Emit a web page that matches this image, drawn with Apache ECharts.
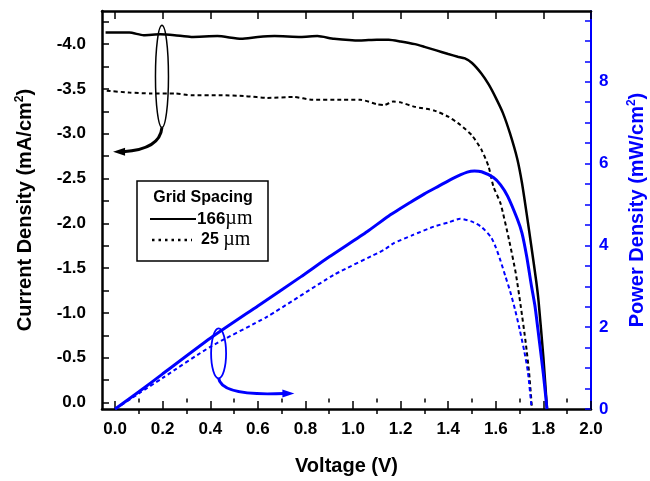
<!DOCTYPE html>
<html><head><meta charset="utf-8">
<script src="https://cdn.jsdelivr.net/npm/echarts@6/dist/echarts.min.js"></script>
<style>html,body{margin:0;padding:0;background:#fff}#c{width:650px;height:481px}</style>
</head><body><div id="c"></div>
<script>
// ---- data ----
const xTickLabels = [0,0.2,0.4,0.6,0.8,1.0,1.2,1.4,1.6,1.8,2.0];
const xMinorTicks = [0.1,0.3,0.5,0.7,0.9,1.1,1.3,1.5,1.7,1.9];
const jTickLabels = [-4.0,-3.5,-3.0,-2.5,-2.0,-1.5,-1.0,-0.5,0.0];
const jTicks = [-4.25,-4.0,-3.75,-3.5,-3.25,-3.0,-2.75,-2.5,-2.25,-2.0,-1.75,-1.5,-1.25,-1.0,-0.75,-0.5,-0.25,0.0];
const pTickLabels = [0,2,4,6,8];
const pTicks = [0,0.5,1,1.5,2,2.5,3,3.5,4,4.5,5,5.5,6,6.5,7,7.5,8,8.5,9,9.5];

// current density, 166 um grid (mA/cm2)
const v166J = [-0.04,0.0,0.06,0.12,0.19,0.25,0.32,0.43,0.53,0.6,0.67,0.78,0.85,0.92,1.03,1.1,1.15,1.2,1.26,1.3,1.35,1.4,1.44,1.47,1.5,1.54,1.57,1.6,1.63,1.66,1.69,1.71,1.73,1.75,1.77,1.78,1.8,1.815];
const j166  = [-4.13,-4.13,-4.13,-4.10,-4.11,-4.10,-4.08,-4.09,-4.06,-4.08,-4.09,-4.08,-4.09,-4.06,-4.04,-4.05,-4.05,-4.03,-4.00,-3.97,-3.93,-3.89,-3.86,-3.84,-3.79,-3.67,-3.55,-3.40,-3.23,-3.00,-2.72,-2.45,-2.10,-1.73,-1.35,-1.12,-0.50,0.07];
// current density, 25 um grid
const v25J = [-0.035,0.06,0.15,0.25,0.32,0.44,0.55,0.64,0.75,0.83,0.95,1.03,1.1,1.13,1.17,1.2,1.26,1.34,1.4,1.45,1.5,1.54,1.57,1.59,1.62,1.656,1.684,1.705,1.726,1.74,1.752];
const j25  = [-3.48,-3.46,-3.45,-3.45,-3.43,-3.43,-3.42,-3.40,-3.41,-3.38,-3.38,-3.38,-3.33,-3.32,-3.36,-3.35,-3.30,-3.26,-3.19,-3.10,-2.98,-2.82,-2.63,-2.41,-2.22,-1.81,-1.44,-1.07,-0.66,-0.33,0.07];
// power density, 166 um grid (mW/cm2)
const v166P = [0,0.1,0.2,0.4,0.6,0.78,0.9,1.06,1.15,1.24,1.3,1.36,1.42,1.48,1.51,1.54,1.59,1.62,1.65,1.69,1.71,1.73,1.75,1.765,1.78,1.8,1.815];
const p166  = [0,0.42,0.86,1.73,2.52,3.23,3.72,4.34,4.72,5.05,5.26,5.45,5.64,5.79,5.82,5.80,5.66,5.48,5.20,4.65,4.30,3.72,3.00,2.50,1.80,0.85,0.0];
// power density, 25 um grid
const v25P = [0,0.1,0.2,0.4,0.64,0.92,1.13,1.17,1.25,1.34,1.4,1.45,1.5,1.54,1.58,1.6,1.62,1.64,1.66,1.68,1.7,1.72,1.735,1.75];
const p25  = [0,0.38,0.76,1.52,2.26,3.28,3.89,4.05,4.25,4.46,4.56,4.65,4.58,4.45,4.20,3.95,3.62,3.25,2.88,2.45,1.95,1.40,0.90,0.05];

const BLUE = '#0000ff';
const FONT = 'Liberation Sans, Arial, sans-serif';
const SERIF = 'Liberation Serif, Times New Roman, serif';
const pairs = (xs, ys) => xs.map((x, i) => [x, ys[i]]);

const chart = echarts.init(document.getElementById('c'));
const xBase = {type:'value', min:-0.055, max:2.0, splitLine:{show:false}};
const option = {
  animation:false,
  backgroundColor:'#fff',
  grid:{left:102, right:59, top:11, bottom:72, outerBoundsMode:'none', containLabel:false},
  xAxis:[
    Object.assign({}, xBase, {position:'bottom',
      name:'Voltage (V)', nameLocation:'middle', nameGap:47,
      nameTextStyle:{fontFamily:FONT, fontWeight:'bold', fontSize:20, color:'#000'},
      axisLine:{show:true, onZero:false, lineStyle:{color:'#000', width:2.5}},
      axisTick:{show:true, inside:true, length:8, customValues:xTickLabels, lineStyle:{color:'#000', width:1.5}},
      axisLabel:{show:true, customValues:xTickLabels, margin:12, formatter:v=>v.toFixed(1),
        fontFamily:FONT, fontWeight:'bold', fontSize:17, color:'#000'}}),
    Object.assign({}, xBase, {position:'bottom',
      axisLine:{show:false}, axisLabel:{show:false},
      axisTick:{show:true, inside:true, length:4, customValues:xMinorTicks, lineStyle:{color:'#000', width:1.5}}}),
    Object.assign({}, xBase, {position:'top',
      axisLine:{show:true, onZero:false, lineStyle:{color:'#000', width:2.5}}, axisLabel:{show:false},
      axisTick:{show:true, inside:true, length:8, customValues:xTickLabels, lineStyle:{color:'#000', width:1.5}}}),
    Object.assign({}, xBase, {position:'top',
      axisLine:{show:false}, axisLabel:{show:false},
      axisTick:{show:true, inside:true, length:5, customValues:xMinorTicks, lineStyle:{color:'#000', width:1.5}}})
  ],
  yAxis:[
    {type:'value', position:'left', inverse:true, min:-4.37, max:0.073, splitLine:{show:false},
      name:'Current Density (mA/cm{s|2})', nameLocation:'middle', nameGap:66, nameRotate:90,
      nameTextStyle:{fontFamily:FONT, fontWeight:'bold', fontSize:20, color:'#000',
        rich:{s:{fontFamily:FONT, fontWeight:'bold', fontSize:12, color:'#000', verticalAlign:'top', padding:[0,0,10,0]}}},
      axisLine:{show:true, onZero:false, lineStyle:{color:'#000', width:2.5}},
      axisTick:{show:true, inside:true, length:7, customValues:jTicks, lineStyle:{color:'#000', width:1.5}},
      axisLabel:{show:true, customValues:jTickLabels, margin:16, formatter:v=>v.toFixed(1),
        fontFamily:FONT, fontWeight:'bold', fontSize:17, color:'#000'}},
    {type:'value', position:'right', min:0, max:9.73, splitLine:{show:false},
      name:'Power Density (mW/cm{s|2})', nameLocation:'middle', nameGap:35, nameRotate:90,
      nameTextStyle:{fontFamily:FONT, fontWeight:'bold', fontSize:20, color:BLUE,
        rich:{s:{fontFamily:FONT, fontWeight:'bold', fontSize:12, color:BLUE, verticalAlign:'top', padding:[0,0,10,0]}}},
      axisLine:{show:true, onZero:false, lineStyle:{color:BLUE, width:2}},
      axisTick:{show:true, inside:true, length:6, customValues:pTicks, lineStyle:{color:BLUE, width:1.5}},
      axisLabel:{show:true, customValues:pTickLabels, margin:8,
        fontFamily:FONT, fontWeight:'bold', fontSize:17, color:BLUE}}
  ],
  series:[
    {type:'line', name:'J 166um', xAxisIndex:0, yAxisIndex:0, data:pairs(v166J, j166), showSymbol:false, smooth:0.2,
      lineStyle:{color:'#000', width:2.5}, z:3},
    {type:'line', name:'J 25um', xAxisIndex:0, yAxisIndex:0, data:pairs(v25J, j25), showSymbol:false, smooth:0.2,
      lineStyle:{color:'#000', width:2, type:[4,3]}, z:3},
    {type:'line', name:'P 166um', xAxisIndex:0, yAxisIndex:1, data:pairs(v166P, p166), showSymbol:false, smooth:0.2,
      lineStyle:{color:BLUE, width:3}, z:4},
    {type:'line', name:'P 25um', xAxisIndex:0, yAxisIndex:1, data:pairs(v25P, p25), showSymbol:false, smooth:0.2,
      lineStyle:{color:BLUE, width:2, type:[4,3]}, z:4}
  ]
};
chart.setOption(option);

// annotations placed through the axes
const pj = (v, j) => chart.convertToPixel({xAxisIndex:0, yAxisIndex:0}, [v, j]);
const pp = (v, p) => chart.convertToPixel({xAxisIndex:0, yAxisIndex:1}, [v, p]);
const eTop = pj(0.197, -4.21), eBot = pj(0.197, -3.07), aEnd = pj(0.0, -2.80);
const bTop = pp(0.435, 1.97), bBot = pp(0.435, 0.75), bEnd = pp(0.745, 0.38);

const graphics = [
  {type:'ellipse', shape:{cx:eTop[0], cy:(eTop[1]+eBot[1])/2, rx:6.5, ry:(eBot[1]-eTop[1])/2},
    style:{fill:'none', stroke:'#000', lineWidth:1.5}, z:10},
  {type:'bezierCurve', shape:{x1:eBot[0], y1:eBot[1], cpx1:eBot[0]-2, cpy1:aEnd[1]-2, x2:aEnd[0]+8, y2:aEnd[1]},
    style:{fill:'none', stroke:'#000', lineWidth:3}, z:10},
  {type:'polygon', shape:{points:[[aEnd[0]-2, aEnd[1]], [aEnd[0]+10, aEnd[1]-4], [aEnd[0]+10, aEnd[1]+4]]},
    style:{fill:'#000'}, z:10},
  {type:'ellipse', shape:{cx:bTop[0], cy:(bTop[1]+bBot[1])/2, rx:7.5, ry:(bBot[1]-bTop[1])/2},
    style:{fill:'none', stroke:BLUE, lineWidth:1.8}, z:10},
  {type:'bezierCurve', shape:{x1:bBot[0], y1:bBot[1], cpx1:bBot[0]+3, cpy1:bEnd[1]+3, x2:bEnd[0]-8, y2:bEnd[1]},
    style:{fill:'none', stroke:BLUE, lineWidth:3}, z:10},
  {type:'polygon', shape:{points:[[bEnd[0]+2, bEnd[1]], [bEnd[0]-10, bEnd[1]-4], [bEnd[0]-10, bEnd[1]+4]]},
    style:{fill:BLUE}, z:10},
  // legend box
  {type:'rect', shape:{x:137, y:181, width:131, height:80}, style:{fill:'#fff', stroke:'#000', lineWidth:1.5}, z:11},
  {type:'text', x:203, y:198, style:{text:'Grid Spacing', font:'bold 16px '+FONT, fill:'#000', align:'center', verticalAlign:'middle'}, z:12},
  {type:'line', shape:{x1:150, y1:219, x2:196, y2:219}, style:{stroke:'#000', lineWidth:2}, z:12},
  {type:'text', x:197, y:219, style:{text:'{a|166}{b|\u00b5m}', fill:'#000', align:'left', verticalAlign:'middle',
    rich:{a:{font:'bold 17px '+FONT, fill:'#000'}, b:{font:'20px '+SERIF, fill:'#000'}}}, z:12},
  {type:'line', shape:{x1:152, y1:240, x2:192, y2:240}, style:{stroke:'#000', lineWidth:2.5, lineDash:[2.5,4]}, z:12},
  {type:'text', x:201, y:240, style:{text:'{a|25 }{b|\u00b5m}', fill:'#000', align:'left', verticalAlign:'middle',
    rich:{a:{font:'bold 16px '+FONT, fill:'#000'}, b:{font:'20px '+SERIF, fill:'#000'}}}, z:12}
];
chart.setOption({graphic:graphics});
</script></body></html>
